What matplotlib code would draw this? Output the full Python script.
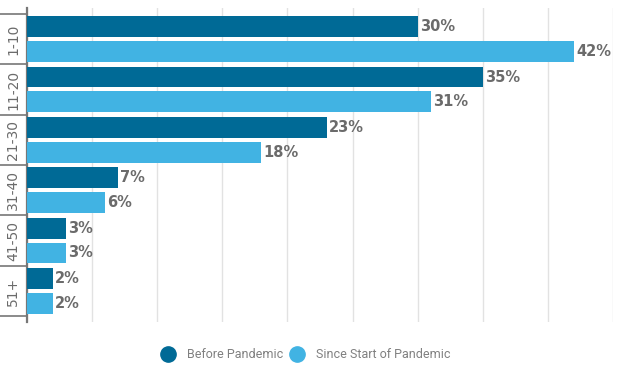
import matplotlib.pyplot as plt
from matplotlib.lines import Line2D
import numpy as np

categories = ["1-10", "11-20", "21-30", "31-40", "41-50", "51+"]
before = [30, 35, 23, 7, 3, 2]
since = [42, 31, 18, 6, 3, 2]
series_names = ["Before Pandemic", "Since Start of Pandemic"]

DARK = "#006a96"
LIGHT = "#41b3e3"
TEXT = "#6b6b6b"

fig = plt.figure(figsize=(6.34, 3.69), dpi=100)
ax = fig.add_axes([27 / 634, 1 - 322 / 369, 586 / 634, 314 / 369])

y = np.arange(len(categories))
h = 0.414
off = 0.247
ax.barh(y - off, before, height=h, color=DARK, zorder=3)
ax.barh(y + off, since, height=h, color=LIGHT, zorder=3)

for yi, v in zip(y - off, before):
    ax.text(v + 0.15, yi, f"{v}%", va="center", ha="left", fontsize=10.5,
            fontweight="bold", color=TEXT, family="DejaVu Sans")
for yi, v in zip(y + off, since):
    ax.text(v + 0.15, yi, f"{v}%", va="center", ha="left", fontsize=10.5,
            fontweight="bold", color=TEXT, family="DejaVu Sans")

pad = 0.118
ax.set_ylim(len(categories) - 0.5 + pad, -0.5 - pad)
ax.set_xlim(0, 45)
ax.set_xticks(np.arange(0, 46, 5))
ax.tick_params(axis="x", length=0, labelbottom=False)
ax.grid(axis="x", color="#e2e2e2", linewidth=1, zorder=0)

ax.set_yticks(y)
ax.set_yticklabels(categories, rotation=90, va="center", fontsize=10,
                   color=TEXT, family="DejaVu Sans")
ax.tick_params(axis="y", which="major", length=0, pad=5)
ax.set_yticks(np.arange(-0.5, len(categories)), minor=True)
ax.tick_params(axis="y", which="minor", length=19.4, width=1.2, color="#777777")

for s in ["top", "right", "bottom"]:
    ax.spines[s].set_visible(False)
ax.spines["left"].set_color("#777777")
ax.spines["left"].set_linewidth(1.6)

handles = [
    Line2D([], [], marker="o", linestyle="", markersize=11, color=DARK),
    Line2D([], [], marker="o", linestyle="", markersize=11, color=LIGHT),
]
fig.legend(handles, series_names, loc="center", bbox_to_anchor=(303 / 634, 1 - 355 / 369),
           ncol=2, frameon=False, handletextpad=0.5, columnspacing=0.1,
           labelcolor="#808080", prop={"family": "Roboto", "size": 9})

fig.savefig("out.png", dpi=100)
